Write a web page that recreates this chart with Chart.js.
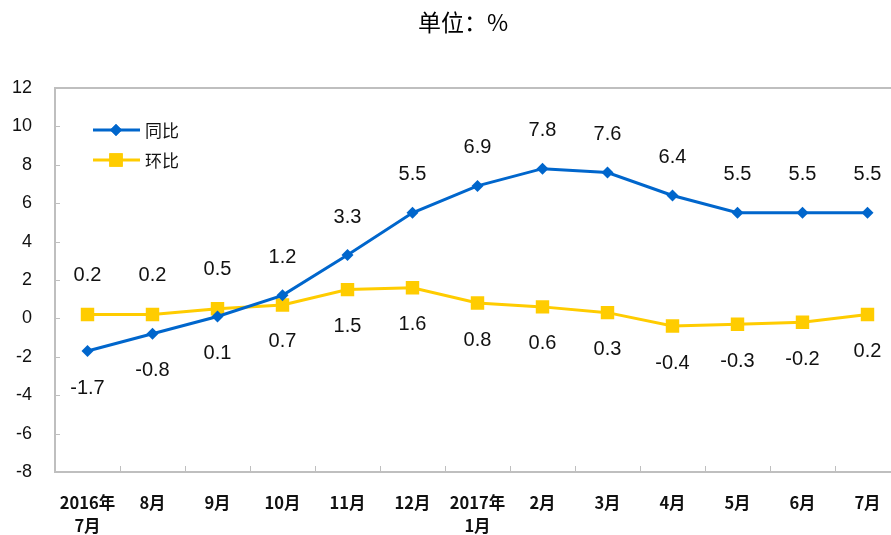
<!DOCTYPE html>
<html>
<head>
<meta charset="utf-8">
<script src="https://cdn.jsdelivr.net/npm/chart.js@4"></script>
<style>
    html, body { margin: 0; padding: 0; background: #fff; overflow: hidden; }
    #wrap { width: 910px; height: 535px; }
</style>
</head>
<body>
<div id="wrap"><canvas id="myChart" width="910" height="535"></canvas></div>
<script>
const categories = [["2016年", "7月"], "8月", "9月", "10月", "11月", "12月", ["2017年", "1月"], "2月", "3月", "4月", "5月", "6月", "7月"];
const yoyValues = [-1.7, -0.8, 0.1, 1.2, 3.3, 5.5, 6.9, 7.8, 7.6, 6.4, 5.5, 5.5, 5.5];
const momValues = [0.2, 0.2, 0.5, 0.7, 1.5, 1.6, 0.8, 0.6, 0.3, -0.4, -0.3, -0.2, 0.2];
const seriesNames = ["同比", "环比"];
const yTicks = [-8, -6, -4, -2, 0, 2, 4, 6, 8, 10, 12];

const axisColor = '#BFBFBF';

// title, inner tick marks, top border, value labels, legend
const extras = {
    id: 'extras',
    afterDraw(chart) {
        const ctx = chart.ctx;
        const area = chart.chartArea;
        const xScale = chart.scales.x;
        const yScale = chart.scales.y;
        ctx.save();

        // title
        ctx.fillStyle = '#000';
        ctx.font = '23px "Noto Sans CJK SC"';
        ctx.textAlign = 'center';
        ctx.textBaseline = 'middle';
        ctx.fillText('单位：%', 463, 22);

        // top border
        ctx.strokeStyle = axisColor;
        ctx.lineWidth = 2;
        ctx.beginPath();
        ctx.moveTo(area.left, area.top);
        ctx.lineTo(area.right, area.top);
        ctx.stroke();

        // inward ticks
        ctx.lineWidth = 1;
        ctx.beginPath();
        yTicks.forEach(v => {
            const y = Math.round(yScale.getPixelForValue(v)) + 0.5;
            ctx.moveTo(area.left, y);
            ctx.lineTo(area.left + 5, y);
        });
        for (let i = 1; i < categories.length; i++) {
            const x = Math.round((xScale.getPixelForValue(i - 1) + xScale.getPixelForValue(i)) / 2) + 0.5;
            ctx.moveTo(x, area.bottom);
            ctx.lineTo(x, area.bottom - 6);
        }
        ctx.stroke();

        // value labels: higher series above, lower series below
        ctx.fillStyle = '#111';
        ctx.font = '20px "Liberation Sans", Arial, sans-serif';
        ctx.textAlign = 'center';
        ctx.textBaseline = 'middle';
        const metaA = chart.getDatasetMeta(0);
        const metaB = chart.getDatasetMeta(1);
        yoyValues.forEach((v, i) => {
            const above = v >= momValues[i];
            const p = metaA.data[i];
            ctx.fillText(v.toFixed(1), p.x, p.y + (above ? -38 : 37));
        });
        momValues.forEach((v, i) => {
            const above = v > yoyValues[i];
            const p = metaB.data[i];
            ctx.fillText(v.toFixed(1), p.x, p.y + (above ? -39 : 37));
        });

        // legend
        const legendRows = [
            { y: 130, color: '#0066CC', style: 'rectRot', r: 6 },
            { y: 160, color: '#FFCC00', style: 'rect', r: 9.5 }
        ];
        legendRows.forEach((row, k) => {
            ctx.strokeStyle = row.color;
            ctx.lineWidth = 3;
            ctx.beginPath();
            ctx.moveTo(93, row.y);
            ctx.lineTo(140, row.y);
            ctx.stroke();
            ctx.fillStyle = row.color;
            Chart.helpers.drawPoint(ctx, { pointStyle: row.style, radius: row.r, borderWidth: 0 }, 116, row.y);
            ctx.fill();
            ctx.fillStyle = '#111';
            ctx.font = '17px "Noto Sans CJK SC"';
            ctx.textAlign = 'left';
            ctx.fillText(seriesNames[k], 145, row.y + 1);
        });

        ctx.restore();
    }
};

new Chart(document.getElementById('myChart'), {
    type: 'line',
    data: {
        labels: categories,
        datasets: [
            {
                label: seriesNames[0],
                data: yoyValues,
                borderColor: '#0066CC',
                backgroundColor: '#0066CC',
                borderWidth: 3,
                pointStyle: 'rectRot',
                pointRadius: 6,
                pointBorderWidth: 0,
                tension: 0
            },
            {
                label: seriesNames[1],
                data: momValues,
                borderColor: '#FFCC00',
                backgroundColor: '#FFCC00',
                borderWidth: 3,
                pointStyle: 'rect',
                pointRadius: 9.5,
                pointBorderWidth: 0,
                tension: 0
            }
        ]
    },
    options: {
        responsive: false,
        animation: false,
        layout: { padding: { top: 88, right: 10, left: 0, bottom: 0 } },
        plugins: {
            legend: { display: false },
            title: { display: false },
            tooltip: { enabled: false }
        },
        scales: {
            x: {
                offset: true,
                grid: { display: false, drawTicks: false },
                border: { display: true, color: axisColor, width: 2 },
                ticks: {
                    color: '#111',
                    padding: 20,
                    maxRotation: 0,
                    autoSkip: false,
                    font: { family: '"Noto Sans CJK SC"', size: 16.5, weight: 'bold', lineHeight: 1.35 }
                },
                afterFit(scale) { scale.height = 63; }
            },
            y: {
                min: -8,
                max: 12,
                grid: { display: false, drawTicks: false },
                border: { display: true, color: axisColor, width: 2 },
                ticks: {
                    stepSize: 2,
                    color: '#111',
                    padding: 23,
                    font: { family: '"Liberation Sans", Arial, sans-serif', size: 18 }
                },
                afterFit(scale) { scale.width = 55; }
            }
        }
    },
    plugins: [extras]
});
</script>
</body>
</html>
